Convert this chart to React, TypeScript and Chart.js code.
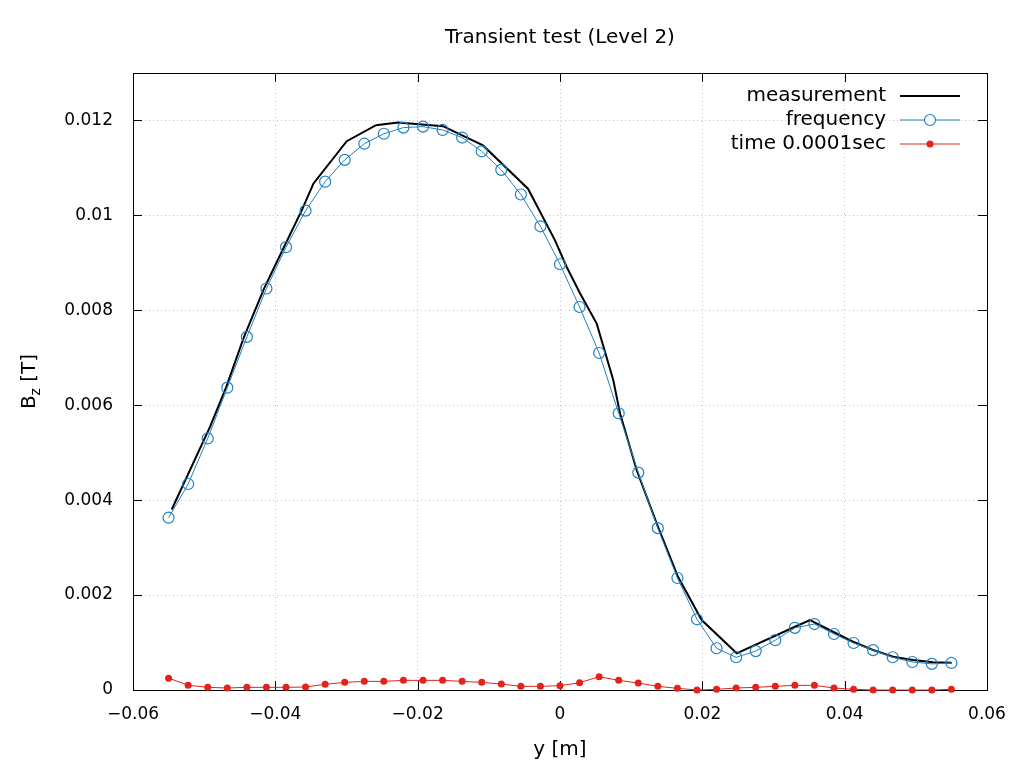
import React, { useEffect, useRef } from "react";
import { Chart, registerables } from "chart.js";

Chart.register(...registerables);

const TITLE = "Transient test (Level 2)";
const X_TITLE = "y [m]";
const FONT_FAMILY = "'DejaVu Sans', sans-serif";
const FONT_SIZE = 20;
const TICK_FONT_SIZE = 17;

const BLUE = "#1f82c2";
const RED = "#e3221a";

// shared sampling positions for the simulated series
const simX = [
  -0.055, -0.05225, -0.0495, -0.04675, -0.044, -0.04125, -0.0385, -0.03575, -0.033, -0.03025,
  -0.0275, -0.02475, -0.022, -0.01925, -0.0165, -0.01375, -0.011, -0.00825, -0.0055, -0.00275,
  0, 0.00275, 0.0055, 0.00825, 0.011, 0.01375, 0.0165, 0.01925, 0.022, 0.02475,
  0.0275, 0.03025, 0.033, 0.03575, 0.0385, 0.04125, 0.044, 0.04675, 0.0495, 0.05225, 0.055,
];

const frequencyY = [
  0.00363, 0.00434, 0.0053, 0.00637, 0.00744, 0.00846, 0.00933, 0.0101, 0.01071, 0.01117,
  0.01151, 0.01172, 0.01185, 0.01187, 0.0118, 0.01164, 0.01135, 0.01096, 0.01044, 0.00977,
  0.00897, 0.00807, 0.0071, 0.00583, 0.00458, 0.00341, 0.00236, 0.00149, 0.00088, 0.00069,
  0.00082, 0.00105, 0.00131, 0.00139, 0.00118, 0.00099, 0.00084, 0.00069, 0.00059, 0.00055, 0.00057,
];

const timeY = [
  0.00025, 0.0001, 0.000056, 0.000042, 0.000056, 0.000056, 0.000056, 0.000063, 0.00012, 0.000161,
  0.000182, 0.000182, 0.000203, 0.000203, 0.000203, 0.000182, 0.000161, 0.000126, 0.000077, 0.000077,
  0.000091, 0.000154, 0.00028, 0.000203, 0.000147, 0.000077, 0.000035, 0.0, 0.000014, 0.000042,
  0.000056, 0.000077, 0.000098, 0.000098, 0.000042, 0.000014, 0.0, 0.0, 0.0, 0.0, 0.000014,
];

const measurementX = [
  -0.05456, -0.04918, -0.04693, -0.0444, -0.04159, -0.03878, -0.03629, -0.03466, -0.02997, -0.02585,
  -0.02276, -0.01644, -0.01082, -0.0045, -0.0007, 0.00094, 0.00281, 0.00516, 0.00749, 0.00843,
  0.01078, 0.01377, 0.01658, 0.01991, 0.02483, 0.03302, 0.03513, 0.03836, 0.04117, 0.04398,
  0.04679, 0.0496, 0.05241, 0.05504,
];

const measurementY = [
  0.003804, 0.005543, 0.006373, 0.007438, 0.008457, 0.009333, 0.010105, 0.010667, 0.011564, 0.011901,
  0.011958, 0.01188, 0.011474, 0.010562, 0.009474, 0.008912, 0.008358, 0.00772, 0.006526, 0.005832,
  0.004632, 0.003438, 0.002385, 0.001474, 0.000773, 0.001333, 0.001474, 0.001227, 0.001017, 0.000842,
  0.000701, 0.000632, 0.000583, 0.000575,
];

const xTicks = { min: -0.06, max: 0.06, step: 0.02 };
const yTicks = { min: 0, max: 0.013, step: 0.002 };

const fmt = (v: number) => String(parseFloat(v.toFixed(6))).replace("-", "\u2212");
const font = (size = FONT_SIZE) => `${size}px ${FONT_FAMILY}`;

const decorPlugin = {
  id: "decor",
  beforeDatasetsDraw(chart: any) {
    const { ctx, chartArea: a, scales } = chart;
    ctx.save();
    ctx.strokeStyle = "#000";
    ctx.lineWidth = 1;
    ctx.strokeRect(Math.round(a.left) + 0.5, Math.round(a.top) + 0.5, Math.round(a.right - a.left), Math.round(a.bottom - a.top));
    const tl = 9;
    ctx.beginPath();
    for (const t of scales.x.ticks) {
      const px = Math.round(scales.x.getPixelForValue(t.value)) + 0.5;
      ctx.moveTo(px, a.bottom);
      ctx.lineTo(px, a.bottom - tl);
      ctx.moveTo(px, a.top);
      ctx.lineTo(px, a.top + tl);
    }
    for (const t of scales.y.ticks) {
      if (Math.abs(t.value - yTicks.max) < 1e-9) continue;
      const py = Math.round(scales.y.getPixelForValue(t.value)) + 0.5;
      ctx.moveTo(a.left, py);
      ctx.lineTo(a.left + tl, py);
      ctx.moveTo(a.right, py);
      ctx.lineTo(a.right - tl, py);
    }
    ctx.stroke();
    ctx.restore();
  },
  afterDraw(chart: any) {
    const { ctx, chartArea: a } = chart;
    ctx.save();
    ctx.fillStyle = "#000";
    ctx.font = font();
    ctx.textAlign = "center";
    ctx.textBaseline = "middle";
    ctx.fillText(TITLE, (a.left + a.right) / 2, 38);

    // y axis title with subscript
    ctx.save();
    ctx.translate(30, (a.top + a.bottom) / 2);
    ctx.rotate(-Math.PI / 2);
    ctx.textAlign = "left";
    ctx.font = font();
    const wB = ctx.measureText("B").width;
    const wT = ctx.measureText(" [T]").width;
    ctx.font = font(14);
    const wz = ctx.measureText("z").width;
    const start = -(wB + wz + wT) / 2;
    ctx.font = font();
    ctx.fillText("B", start, 0);
    ctx.font = font(14);
    ctx.fillText("z", start + wB, 6);
    ctx.font = font();
    ctx.fillText(" [T]", start + wB + wz, 0);
    ctx.restore();

    // legend (inside, top right)
    const ds = chart.data.datasets;
    const textRight = 886;
    const lx0 = 900;
    const lx1 = 960;
    const rows = [96, 120, 144];
    ds.forEach((d: any, i: number) => {
      const y = rows[i];
      ctx.font = font();
      ctx.textAlign = "right";
      ctx.fillStyle = "#000";
      ctx.fillText(d.label, textRight, y);
      ctx.strokeStyle = d.borderColor;
      ctx.lineWidth = d.borderWidth;
      ctx.beginPath();
      ctx.moveTo(lx0, y);
      ctx.lineTo(lx1, y);
      ctx.stroke();
      if (d.pointRadius > 0) {
        ctx.beginPath();
        ctx.arc((lx0 + lx1) / 2, y, d.pointRadius, 0, Math.PI * 2);
        if (d.pointBackgroundColor !== "rgba(0,0,0,0)") {
          ctx.fillStyle = d.pointBackgroundColor;
          ctx.fill();
        } else {
          ctx.fillStyle = "#fff";
          ctx.fill();
          ctx.strokeStyle = d.pointBorderColor;
          ctx.lineWidth = d.pointBorderWidth;
          ctx.stroke();
        }
      }
    });
    ctx.restore();
  },
};

export default function App() {
  const ref = useRef<HTMLCanvasElement | null>(null);

  useEffect(() => {
    if (!ref.current) return;
    const gridColor = (c: any) =>
      Math.abs(c.tick?.value - yTicks.max) < 1e-9 ? "rgba(0,0,0,0)" : "#c4c4c4";
    const chart = new Chart(ref.current, {
      type: "line",
      data: {
        datasets: [
          {
            label: "measurement",
            data: measurementX.map((x, i) => ({ x, y: measurementY[i] })),
            borderColor: "#000000",
            borderWidth: 2,
            pointRadius: 0,
            fill: false,
            tension: 0,
            order: 3,
            clip: false,
          },
          {
            label: "frequency",
            data: simX.map((x, i) => ({ x, y: frequencyY[i] })),
            borderColor: BLUE,
            borderWidth: 1,
            pointRadius: 5.5,
            pointBackgroundColor: "rgba(0,0,0,0)",
            pointBorderColor: BLUE,
            pointBorderWidth: 1.2,
            fill: false,
            tension: 0,
            order: 2,
            clip: false,
          },
          {
            label: "time 0.0001sec",
            data: simX.map((x, i) => ({ x, y: timeY[i] })),
            borderColor: RED,
            borderWidth: 1,
            pointRadius: 3.5,
            pointBackgroundColor: RED,
            pointBorderColor: RED,
            pointBorderWidth: 0,
            fill: false,
            tension: 0,
            order: 1,
            clip: false,
          },
        ] as any,
      },
      options: {
        responsive: true,
        maintainAspectRatio: false,
        animation: false,
        layout: { padding: { left: 0, right: 37, top: 73, bottom: 0 } },
        plugins: {
          legend: { display: false },
          tooltip: { enabled: false },
          title: { display: false },
        },
        scales: {
          x: {
            type: "linear",
            min: xTicks.min,
            max: xTicks.max,
            afterFit: (s: any) => {
              s.height = 78;
            },
            ticks: {
              stepSize: xTicks.step,
              autoSkip: false,
              maxRotation: 0,
              padding: 14,
              color: "#000",
              font: { family: FONT_FAMILY, size: TICK_FONT_SIZE },
              callback: (v: any) => fmt(Number(v)),
            },
            grid: { color: "#c4c4c4", drawTicks: false, lineWidth: 1 },
            border: { display: false, dash: [1, 3] },
            title: {
              display: true,
              text: X_TITLE,
              color: "#000",
              font: { family: FONT_FAMILY, size: FONT_SIZE },
              padding: { top: 0, bottom: 6 },
            },
          },
          y: {
            type: "linear",
            min: yTicks.min,
            max: yTicks.max,
            afterFit: (s: any) => {
              s.width = 133;
            },
            ticks: {
              stepSize: yTicks.step,
              autoSkip: false,
              padding: 20,
              color: "#000",
              font: { family: FONT_FAMILY, size: TICK_FONT_SIZE },
              callback: (v: any) =>
                Math.abs(Number(v) - yTicks.max) < 1e-9 ? "" : fmt(Number(v)),
            },
            grid: { color: gridColor, drawTicks: false, lineWidth: 1 },
            border: { display: false, dash: [1, 3] },
          },
        },
      } as any,
      plugins: [decorPlugin],
    });
    return () => chart.destroy();
  }, []);

  return (
    <div style={{ position: "fixed", left: 0, top: 0, width: 1024, height: 768, background: "#fff" }}>
      <canvas ref={ref} />
    </div>
  );
}
